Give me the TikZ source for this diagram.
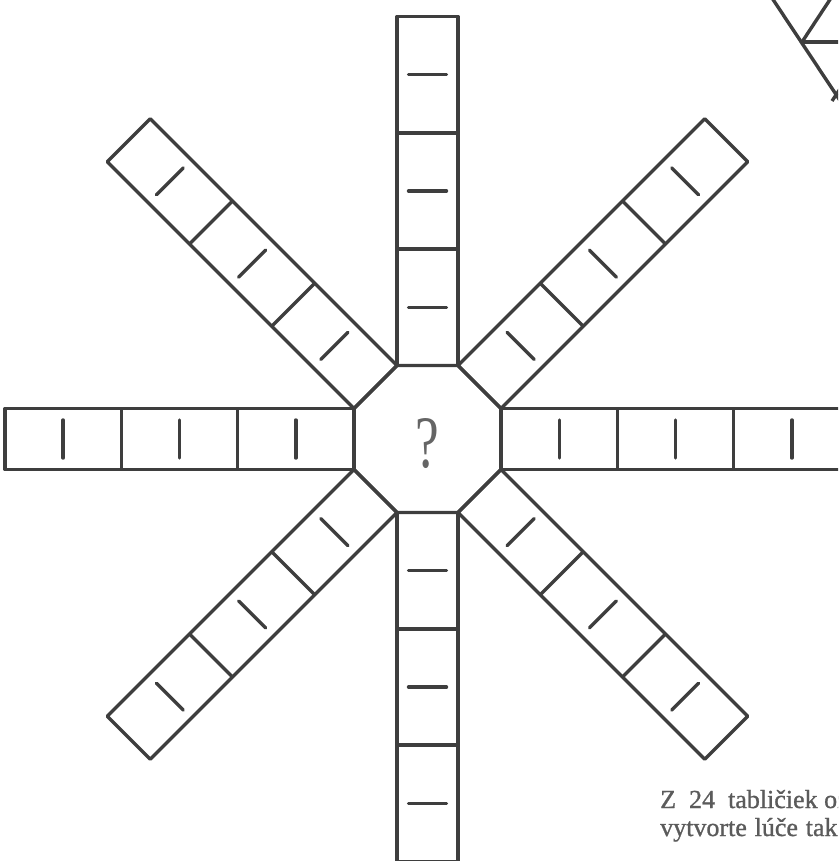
\documentclass[tikz,border=0pt]{standalone}
\usepackage{fontspec}
\setmainfont{Liberation Serif}
\newfontfamily\scanfont[FakeBold=1]{Liberation Serif}
\definecolor{ink}{HTML}{3E3E3E}
\definecolor{pencil}{HTML}{656565}

\begin{document}
\begin{tikzpicture}[x=1pt, y=-1pt, line join=round,
  edge/.style={draw=ink, line width=3.4pt},
  tick/.style={draw=ink, line width=3.4pt, line cap=round},
  qmark/.style={font=\fontsize{74}{74}\selectfont, text=pencil, inner sep=0pt, transform shape, xscale=0.72},
  note/.style={font=\scanfont\fontsize{26}{30}\selectfont, text=ink!85, anchor=base west, inner sep=0pt}]
	\useasboundingbox (0,0) rectangle (838,861);
	\clip (0,0) rectangle (838,861);
	% centre plate and the eight rays of three tiles
	\begin{scope}[shift={(427.5,439)}]
		\draw[edge] (22.5:79.56) -- (67.5:79.56) -- (112.5:79.56) -- (157.5:79.56) -- (202.5:79.56) -- (247.5:79.56) -- (292.5:79.56) -- (337.5:79.56) -- cycle;
		\node[qmark] (hub) at (0,5) {?};
		\foreach \a in {0,45,...,315} {
			\begin{scope}[rotate=\a]
				\draw[edge] (73.5,-30.44) rectangle (422.5,30.44);
				\foreach \k in {1,2} {\draw[edge] (73.5+116.33*\k,-30.44) -- ++(0,60.88);}
				\foreach \k in {0,1,2} {\draw[tick] (131.7+116.33*\k,-19) -- ++(0,38);}
			\end{scope}
		}
	\end{scope}
	% piece of the next figure, top right
	\draw[edge] (772,-2) -- (841,102);
	\draw[edge] (802,42) -- (831,-2);
	\draw[edge] (802,42) -- (841,42);
	\draw[edge] (832,101) -- (842,86);
	% task text, cut at the edge
	\node[note] (line1) at (660,808) {Z\hspace{0.5em}24\hspace{0.5em}tabličiek označených};
	\node[note] (line2) at (660,836) {vytvorte\hspace{0.3em}lúče\hspace{0.3em}tak};
\end{tikzpicture}
\end{document}
